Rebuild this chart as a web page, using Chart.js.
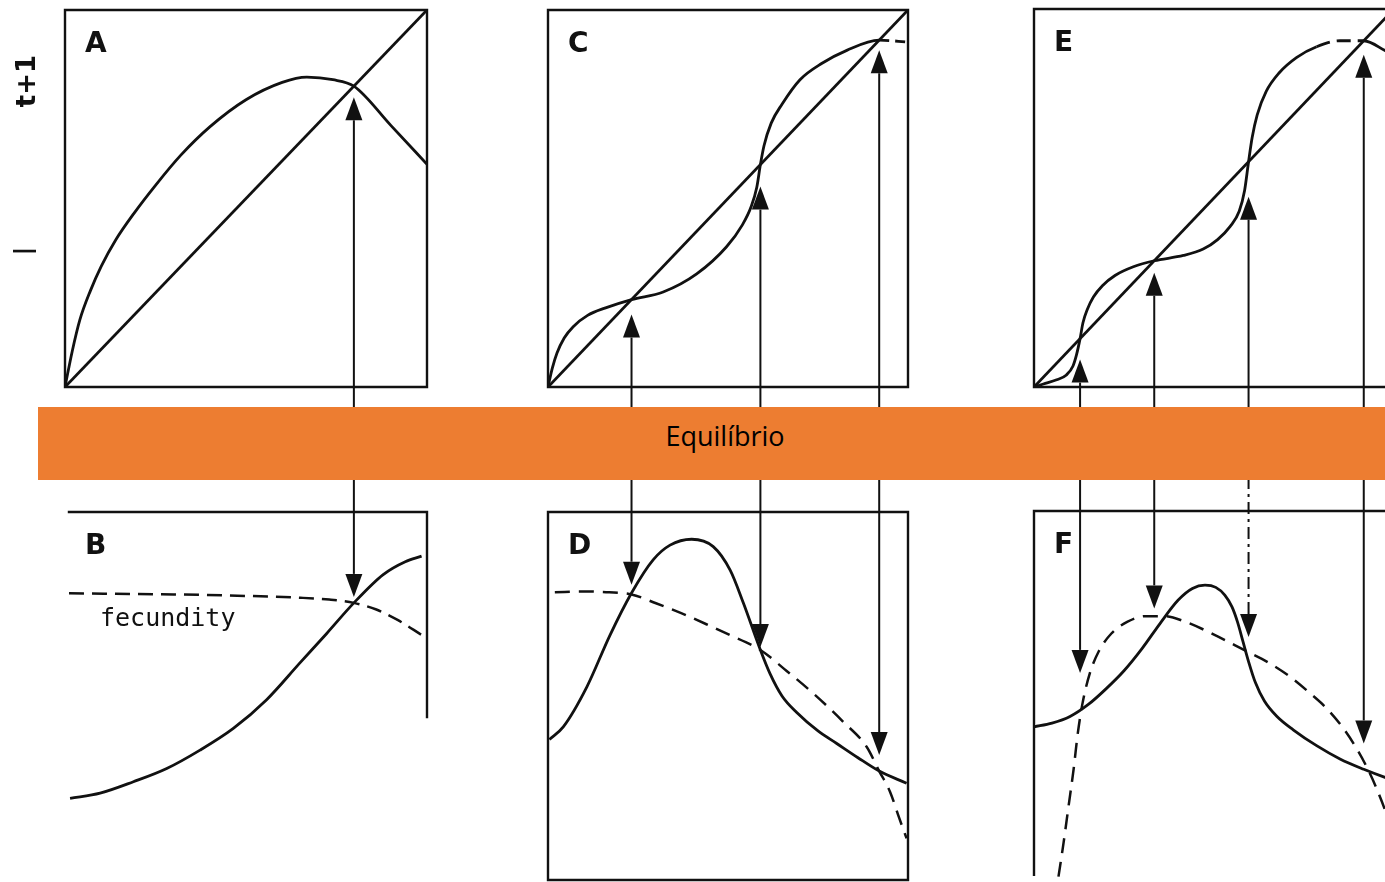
<!DOCTYPE html>
<html>
<head>
<meta charset="utf-8">
<script src="https://cdn.jsdelivr.net/npm/chart.js@4.4.0/dist/chart.umd.min.js"></script>
<style>
  body { margin: 0; background: #fff; overflow: hidden; }
  #page { position: relative; width: 1385px; height: 882px; overflow: hidden; background: #fff; }
  #page canvas { position: absolute; }
  .band { position: absolute; left: 38px; top: 407px; width: 1374px; height: 73px; background: #ed7d31; z-index: 5; }
  .band span { display: block; margin-top: 16px; text-align: center; font: 27px/26px "Open Sans", sans-serif; color: #000; }
</style>
</head>
<body>
<div id="page">
  <div class="band"><span>Equilíbrio</span></div>
</div>
<script>
// ---- data (N_t scaled 0..1 on every panel) ----

// 1:1 replacement line
const diagX = [0, 1];
const diagY = [0, 1];

// A: dome-shaped recruitment, one equilibrium
const aN    = [0, 0.02, 0.041, 0.07, 0.1, 0.14, 0.19, 0.25, 0.32, 0.4, 0.5, 0.6, 0.668, 0.74, 0.798, 0.9, 1];
const aNext = [0, 0.095, 0.178, 0.255, 0.32, 0.39, 0.46, 0.535, 0.615, 0.69, 0.762, 0.808, 0.822, 0.815, 0.798, 0.694, 0.591];

// B: mortality (solid) and fecundity (dashed)
const bN    = [0.014, 0.097, 0.189, 0.281, 0.373, 0.465, 0.557, 0.649, 0.723, 0.798, 0.879, 0.94, 0.985];
const bMort = [0.222, 0.236, 0.267, 0.303, 0.353, 0.412, 0.49, 0.59, 0.67, 0.753, 0.83, 0.865, 0.88];
const bFecN = [0.011, 0.3, 0.5, 0.65, 0.73, 0.798, 0.86, 0.92, 0.985];
const bFec  = [0.779, 0.776, 0.772, 0.767, 0.762, 0.753, 0.735, 0.706, 0.666];

// C: sigmoid recruitment, three equilibria
const cN    = [0, 0.012, 0.025, 0.045, 0.07, 0.11, 0.16, 0.232, 0.32, 0.413, 0.496, 0.54, 0.565, 0.58, 0.59, 0.6, 0.62, 0.65, 0.7, 0.76, 0.83, 0.92, 1];
const cNext = [0, 0.05, 0.09, 0.13, 0.16, 0.19, 0.21, 0.232, 0.252, 0.3, 0.372, 0.43, 0.48, 0.53, 0.59, 0.64, 0.7, 0.75, 0.815, 0.858, 0.893, 0.92, 0.915];

// D
const dN    = [0.004, 0.043, 0.108, 0.172, 0.232, 0.292, 0.339, 0.399, 0.459, 0.506, 0.543, 0.59, 0.617, 0.65, 0.691, 0.75, 0.802, 0.86, 0.92, 0.996];
const dMort = [0.382, 0.417, 0.525, 0.665, 0.78, 0.87, 0.91, 0.926, 0.906, 0.842, 0.752, 0.625, 0.56, 0.5, 0.455, 0.405, 0.371, 0.333, 0.296, 0.263];
const dFecN = [0.019, 0.1, 0.17, 0.232, 0.3, 0.37, 0.44, 0.5, 0.59, 0.663, 0.737, 0.82, 0.885, 0.92, 0.95, 0.975, 0.996];
const dFec  = [0.782, 0.784, 0.782, 0.776, 0.752, 0.725, 0.695, 0.668, 0.625, 0.568, 0.507, 0.43, 0.362, 0.296, 0.24, 0.17, 0.113];

// E: double sigmoid, four equilibria
const eN    = [0, 0.026, 0.063, 0.09, 0.108, 0.118, 0.128, 0.136, 0.148, 0.165, 0.19, 0.225, 0.276, 0.334, 0.415, 0.47, 0.51, 0.545, 0.57, 0.585, 0.596, 0.606, 0.62, 0.645, 0.68, 0.73, 0.785, 0.85, 0.916, 0.975, 1];
const eNext = [0, 0.008, 0.019, 0.032, 0.055, 0.085, 0.128, 0.17, 0.205, 0.238, 0.268, 0.295, 0.318, 0.334, 0.348, 0.365, 0.39, 0.425, 0.465, 0.52, 0.596, 0.66, 0.72, 0.782, 0.83, 0.872, 0.9, 0.916, 0.916, 0.89, 0.876];

// F
const fN    = [0, 0.05, 0.1, 0.15, 0.2, 0.25, 0.3, 0.35, 0.4, 0.44, 0.475, 0.505, 0.53, 0.55, 0.565, 0.58, 0.596, 0.615, 0.64, 0.675, 0.72, 0.785, 0.85, 0.916, 0.975, 1];
const fMort = [0.415, 0.425, 0.443, 0.475, 0.518, 0.567, 0.627, 0.695, 0.758, 0.79, 0.799, 0.793, 0.772, 0.74, 0.7, 0.648, 0.592, 0.535, 0.485, 0.443, 0.407, 0.364, 0.328, 0.3, 0.278, 0.27];
const fFecN = [0.068, 0.082, 0.096, 0.11, 0.122, 0.135, 0.155, 0.18, 0.215, 0.26, 0.31, 0.36, 0.42, 0.5, 0.586, 0.65, 0.711, 0.767, 0.813, 0.86, 0.9, 0.93, 0.955, 0.975, 1];
const fFec  = [0.009, 0.1, 0.2, 0.3, 0.4, 0.48, 0.56, 0.62, 0.668, 0.7, 0.715, 0.715, 0.7, 0.665, 0.622, 0.59, 0.551, 0.506, 0.465, 0.41, 0.35, 0.295, 0.24, 0.19, 0.12];

// equilibrium densities, and where mortality meets fecundity below them
const eqAB  = [0.798];
const lowAB = [0.753];
const eqCD  = [0.232, 0.59, 0.92];
const lowCD = [0.778, 0.625, 0.296];
const eqEF  = [0.128, 0.334, 0.596, 0.916];
const lowEF = [0.461, 0.709, 0.623, 0.294];

// ---- drawing ----
const INK = '#111';
const MARGIN = 60;
const page = document.getElementById('page');

const pts = (xs, ys) => xs.map((v, i) => ({ x: v, y: ys[i] }));

function curve(xs, ys, extra) {
  return Object.assign({
    data: pts(xs, ys),
    borderColor: INK,
    borderWidth: 2.8,
    pointRadius: 0,
    fill: false,
    cubicInterpolationMode: 'monotone'
  }, extra);
}

const diagonal = () => curve(diagX, diagY, { cubicInterpolationMode: 'default', tension: 0 });

function dashedBetween(from, to, pattern) {
  return { borderDash: c => (c.p0.parsed.x >= from - 1e-6 && c.p1.parsed.x <= to + 1e-6 ? pattern : undefined) };
}

// frame, arrows, panel letter and loose labels
const panelDecor = {
  id: 'panelDecor',
  afterDatasetsDraw(chart, args, opts) {
    const { ctx, chartArea: area } = chart;
    const x = chart.scales.x, y = chart.scales.y;
    ctx.save();
    ctx.strokeStyle = INK;
    ctx.fillStyle = INK;
    ctx.lineCap = 'square';

    const s = opts.sides || {};
    ctx.lineWidth = 2.4;
    ctx.beginPath();
    if (s.top) { ctx.moveTo(x.getPixelForValue(s.top[0]), area.top); ctx.lineTo(x.getPixelForValue(s.top[1]), area.top); }
    if (s.bottom) { ctx.moveTo(x.getPixelForValue(s.bottom[0]), area.bottom); ctx.lineTo(x.getPixelForValue(s.bottom[1]), area.bottom); }
    if (s.left) { ctx.moveTo(area.left, y.getPixelForValue(s.left[0])); ctx.lineTo(area.left, y.getPixelForValue(s.left[1])); }
    if (s.right) { ctx.moveTo(area.right, y.getPixelForValue(s.right[0])); ctx.lineTo(area.right, y.getPixelForValue(s.right[1])); }
    ctx.stroke();

    const ar = opts.arrows;
    if (ar) {
      ctx.lineCap = 'butt';
      ar.at.forEach((n, i) => {
        const px = x.getPixelForValue(n);
        const py = y.getPixelForValue(ar.level[i]);
        const up = ar.dir === 'up';
        const tip = up ? py + ar.gap[i] : py - ar.gap[i];
        const base = up ? tip + 23 : tip - 23;
        ctx.lineWidth = 2;
        ctx.setLineDash((ar.dash && ar.dash[i]) || []);
        ctx.beginPath();
        ctx.moveTo(px, base);
        ctx.lineTo(px, up ? chart.height : 0);
        ctx.stroke();
        ctx.setLineDash([]);
        ctx.beginPath();
        ctx.moveTo(px, tip);
        ctx.lineTo(px - 8.5, base);
        ctx.lineTo(px + 8.5, base);
        ctx.closePath();
        ctx.fill();
      });
    }

    ctx.font = 'bold 28px "DejaVu Sans"';
    ctx.textAlign = 'left';
    ctx.textBaseline = 'alphabetic';
    ctx.fillText(opts.letter, area.left + 20, area.top + 42);

    (opts.notes || []).forEach(t => {
      ctx.save();
      ctx.font = t.font;
      ctx.textAlign = t.align || 'left';
      ctx.textBaseline = t.baseline || 'alphabetic';
      ctx.translate(area.left + t.dx, area.top + t.dy);
      if (t.rotate) ctx.rotate(t.rotate);
      ctx.fillText(t.text, 0, 0);
      ctx.restore();
    });
    ctx.restore();
  }
};

function makePanel(frame, datasets, decor) {
  const w = frame.right - frame.left + 2 * MARGIN;
  const h = frame.bottom - frame.top + 2 * MARGIN;
  const canvas = document.createElement('canvas');
  canvas.width = w;
  canvas.height = h;
  canvas.style.left = (frame.left - MARGIN) + 'px';
  canvas.style.top = (frame.top - MARGIN) + 'px';
  canvas.style.width = w + 'px';
  canvas.style.height = h + 'px';
  page.insertBefore(canvas, page.firstChild);

  return new Chart(canvas, {
    type: 'line',
    data: { datasets },
    options: {
      responsive: false,
      animation: false,
      devicePixelRatio: 1,
      layout: { padding: MARGIN },
      events: [],
      plugins: {
        legend: { display: false },
        tooltip: { enabled: false },
        panelDecor: decor
      },
      scales: {
        x: { type: 'linear', min: 0, max: 1, display: false },
        y: { type: 'linear', min: 0, max: 1, display: false }
      }
    },
    plugins: [panelDecor]
  });
}

const ALL = { top: [0, 1], bottom: [0, 1], left: [0, 1], right: [0, 1] };

// A
makePanel({ left: 65, top: 10, right: 427, bottom: 387 },
  [diagonal(), curve(aN, aNext)],
  {
    letter: 'A', sides: ALL,
    arrows: { dir: 'up', at: eqAB, level: eqAB, gap: [11] },
    notes: [
      { text: 't+1', dx: -37, dy: 71, rotate: -Math.PI / 2, align: 'center', baseline: 'middle', font: 'bold 26px "DejaVu Sans"' },
      { text: 'l', dx: -37, dy: 241, rotate: -Math.PI / 2, align: 'center', baseline: 'middle', font: '30px "DejaVu Sans"' }
    ]
  });

// B
makePanel({ left: 65, top: 512, right: 427, bottom: 880 },
  [curve(bN, bMort), curve(bFecN, bFec, { borderDash: [15, 8], borderWidth: 2.5 })],
  {
    letter: 'B', sides: { top: [0.011, 1], right: [0.443, 1] },
    arrows: { dir: 'down', at: eqAB, level: lowAB, gap: [6] },
    notes: [{ text: 'fecundity', dx: 35, dy: 114, font: '25px "DejaVu Sans Mono"' }]
  });

// C
makePanel({ left: 548, top: 10, right: 908, bottom: 387 },
  [diagonal(), curve(cN, cNext, { segment: dashedBetween(0.92, 1, [10, 6]) })],
  {
    letter: 'C', sides: ALL,
    arrows: { dir: 'up', at: eqCD, level: eqCD, gap: [15, 22, 10] }
  });

// D
makePanel({ left: 548, top: 512, right: 908, bottom: 880 },
  [curve(dN, dMort), curve(dFecN, dFec, { borderDash: [15, 9], borderWidth: 2.5 })],
  {
    letter: 'D', sides: ALL,
    arrows: { dir: 'down', at: eqCD, level: lowCD, gap: [9, 3, 16] }
  });

// E
makePanel({ left: 1034, top: 9, right: 1394, bottom: 387 },
  [diagonal(), curve(eN, eNext, { segment: dashedBetween(0.785, 0.916, [14, 7]) })],
  {
    letter: 'E', sides: ALL,
    arrows: { dir: 'up', at: eqEF, level: eqEF, gap: [21, 12, 35, 14] }
  });

// F
makePanel({ left: 1034, top: 511, right: 1394, bottom: 880 },
  [curve(fN, fMort), curve(fFecN, fFec, { borderDash: [15, 9], borderWidth: 2.5 })],
  {
    letter: 'F', sides: { top: [0, 1], left: [0.014, 1], right: [0, 1] },
    arrows: { dir: 'down', at: eqEF, level: lowEF, gap: [37, 10, 13, 28], dash: [null, null, [12, 5, 3, 5], null] }
  });
</script>
</body>
</html>
